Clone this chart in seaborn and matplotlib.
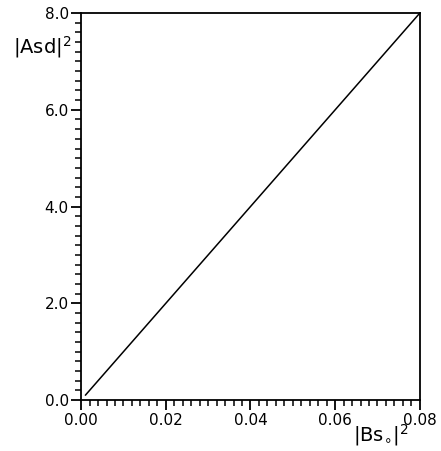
import matplotlib
matplotlib.use("Agg")
import matplotlib.pyplot as plt
import seaborn as sns
import pandas as pd
from matplotlib.ticker import MultipleLocator, FormatStrFormatter

bs0_sq = [0.001, 0.08]
asd_sq = [0.1, 8.0]
x_ticks = [0.00, 0.02, 0.04, 0.06, 0.08]
y_ticks = [0.0, 2.0, 4.0, 6.0, 8.0]

sns.set_theme(style="ticks")
plt.rcParams['font.family'] = ['DejaVu Sans']
plt.rcParams['mathtext.fontset'] = 'dejavusans'

df = pd.DataFrame({"x": bs0_sq, "y": asd_sq})

fig = plt.figure(figsize=(4.41, 4.51), dpi=100)
ax = fig.add_axes([0.184, 0.113, 0.768, 0.858])
sns.lineplot(data=df, x="x", y="y", ax=ax, color="black", linewidth=1.1)

ax.set_xlim(0, 0.08)
ax.set_ylim(0, 8.0)
ax.set_xticks(x_ticks)
ax.set_yticks(y_ticks)
ax.xaxis.set_major_formatter(FormatStrFormatter("%.2f"))
ax.yaxis.set_major_formatter(FormatStrFormatter("%.1f"))
ax.xaxis.set_minor_locator(MultipleLocator(0.002))
ax.yaxis.set_minor_locator(MultipleLocator(0.2))
ax.tick_params(which="major", direction="out", length=7, width=1.3, color="black",
               labelsize=11, labelcolor="black", pad=2)
ax.tick_params(which="minor", direction="out", length=4, width=1.1, color="black")
ax.set_xlabel("")
ax.set_ylabel("")
for s in ax.spines.values():
    s.set_visible(True)
    s.set_color("black")
    s.set_linewidth(1.3)

fig.text(0.03, 0.895, r"$|\mathrm{Asd}|^2$", fontsize=14, color="black", ha="left", va="center")
fig.text(0.80, 0.035, r"$|\mathrm{Bs}_{\circ}|^2$", fontsize=14, color="black", ha="left", va="center")

fig.savefig("out.png", dpi=100, facecolor="white")
